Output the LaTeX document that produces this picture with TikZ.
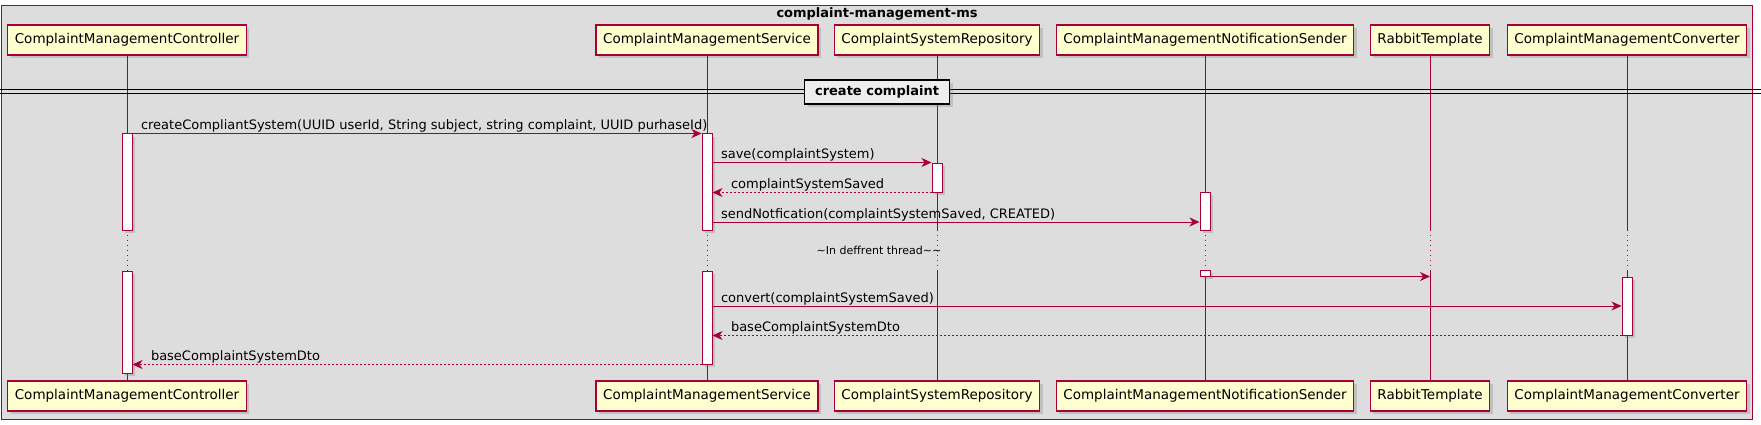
\documentclass[tikz,border=0pt]{standalone}
\usepackage{fontspec}
\setmainfont{DejaVu Sans}
\usetikzlibrary{arrows.meta,shadows}

\definecolor{umlred}{HTML}{A80036}
\definecolor{umlback}{HTML}{DDDDDD}
\definecolor{umlpart}{HTML}{FEFECE}
\definecolor{umldiv}{HTML}{EEEEEE}

\tikzset{
  part/.style={draw=umlred, fill=umlpart, line width=1.2pt, minimum height=30pt,
    inner xsep=7pt, inner ysep=0pt, font=\fontsize{13.5}{16}\selectfont,
    drop shadow={shadow xshift=3pt, shadow yshift=-3pt, opacity=.3}},
  act/.style={draw=umlred, fill=white, line width=1pt, minimum width=10pt, inner sep=0pt,
    drop shadow={shadow xshift=3pt, shadow yshift=-3pt, opacity=.3}},
  life/.style={draw=umlred, line width=.8pt},
  delayline/.style={life, dash pattern=on 1pt off 4pt},
  msg/.style={draw=umlred, line width=1pt, -{Stealth[length=10pt, width=9pt, inset=3pt]}},
  ret/.style={msg, dash pattern=on 2pt off 2pt},
  msgfont/.style={inner sep=0pt, anchor=base west, font=\fontsize{13}{15}\selectfont},
  lbl/.style={msgfont, pos=0, xshift=8pt, yshift=4pt},
  rlbl/.style={msgfont, pos=1, xshift=18pt, yshift=4pt},
}

\begin{document}
\begin{tikzpicture}[x=1pt, y=-1pt]
      \useasboundingbox (0,0) rectangle (1761,425);
      % box round the participants
      \draw[draw=umlred, fill=umlback, line width=1pt] (1.5,6) rectangle (1752,419);
      \node[font=\bfseries\fontsize{13}{15}\selectfont] (title) at (877,14) {complaint-management-ms};

      \node[part] (ctrlTop) at (127,40) {ComplaintManagementController};
      \node[part] (servTop) at (707,40) {ComplaintManagementService};
      \node[part] (repoTop) at (937,40) {ComplaintSystemRepository};
      \node[part] (notifTop) at (1205,40) {ComplaintManagementNotificationSender};
      \node[part] (rabbitTop) at (1430,40) {RabbitTemplate};
      \node[part] (convTop) at (1627,40) {ComplaintManagementConverter};
      \node[part] (ctrlBot) at (127,396) {ComplaintManagementController};
      \node[part] (servBot) at (707,396) {ComplaintManagementService};
      \node[part] (repoBot) at (937,396) {ComplaintSystemRepository};
      \node[part] (notifBot) at (1205,396) {ComplaintManagementNotificationSender};
      \node[part] (rabbitBot) at (1430,396) {RabbitTemplate};
      \node[part] (convBot) at (1627,396) {ComplaintManagementConverter};

      \coordinate (delayTop) at (0,230);
      \coordinate (delayBot) at (0,270);
      \coordinate (m4) at (0,222);
      \coordinate (m7) at (0,306);

      % lifelines
      \draw[life] (ctrlTop) -- (ctrlTop |- delayTop) (ctrlTop |- delayBot) -- (ctrlBot);
      \draw[life] (servTop) -- (servTop |- delayTop) (servTop |- delayBot) -- (servBot);
      \draw[life] (repoTop) -- (repoTop |- delayTop) (repoTop |- delayBot) -- (repoBot);
      \draw[life] (notifTop) -- (notifTop |- delayTop) (notifTop |- delayBot) -- (notifBot);
      \draw[life] (rabbitTop) -- (rabbitTop |- delayTop) (rabbitTop |- delayBot) -- (rabbitBot);
      \draw[life] (convTop) -- (convTop |- delayTop) (convTop |- delayBot) -- (convBot);
      \draw[delayline] (ctrlTop |- delayTop) -- (ctrlTop |- delayBot);
      \draw[delayline] (servTop |- delayTop) -- (servTop |- delayBot);
      \draw[delayline] (repoTop |- delayTop) -- (repoTop |- delayBot);
      \draw[delayline] (notifTop |- delayTop) -- (notifTop |- delayBot);
      \draw[delayline] (rabbitTop |- delayTop) -- (rabbitTop |- delayBot);
      \draw[delayline] (convTop |- delayTop) -- (convTop |- delayBot);

      % divider
      \draw[line width=1pt] (0,90) -- (1761,90) (0,94) -- (1761,94);
      \node[draw, line width=1.5pt, fill=umldiv, minimum width=145pt, minimum height=24pt,
        font=\bfseries\fontsize{13}{15}\selectfont,
        drop shadow={shadow xshift=3pt, shadow yshift=-3pt, opacity=.3}] (divider) at (877,92) {create complaint};

      % activations
      \node[act, minimum height=96pt] (ctrlAct1) at (127,182) {};
      \node[act, minimum height=96pt] (servAct1) at (707,182) {};
      \node[act, minimum height=29pt] (repoAct) at (937,177.5) {};
      \node[act, minimum height=38pt] (notifAct1) at (1205,211) {};
      \node[act, minimum height=6pt] (notifAct2) at (1205,273) {};
      \node[act, minimum height=102pt] (ctrlAct2) at (127,322) {};
      \node[act, minimum height=93pt] (servAct2) at (707,317.5) {};
      \node[act, minimum height=58pt] (convAct) at (1627,306) {};

      % messages
      \draw[msg] (ctrlAct1.north east) -- node[lbl] (l1) {createCompliantSystem(UUID userId, String subject, string complaint, UUID purhaseId)} (servAct1.north west);
      \draw[msg] (servAct1.east |- repoAct.north) -- node[lbl] (l2) {save(complaintSystem)} (repoAct.north west);
      \draw[ret] (repoAct.south west) -- node[rlbl] (l3) {complaintSystemSaved} (servAct1.east |- repoAct.south);
      \draw[msg] (servAct1.east |- m4) -- node[lbl] (l4) {sendNotfication(complaintSystemSaved, CREATED)} (notifAct1.west |- m4);
      \node[font=\fontsize{11}{13}\selectfont] (delay) at (879,250) {\textasciitilde In deffrent thread\textasciitilde\textasciitilde};
      \draw[msg] (notifAct2.south east) -- (rabbitTop |- notifAct2.south);
      \draw[msg] (servAct2.east |- m7) -- node[lbl] (l7) {convert(complaintSystemSaved)} (convAct.west |- m7);
      \draw[ret] (convAct.south west) -- node[rlbl] (l8) {baseComplaintSystemDto} (servAct2.east |- convAct.south);
      \draw[ret] (servAct2.south west) -- node[rlbl] (l9) {baseComplaintSystemDto} (ctrlAct2.east |- servAct2.south);
\end{tikzpicture}
\end{document}
